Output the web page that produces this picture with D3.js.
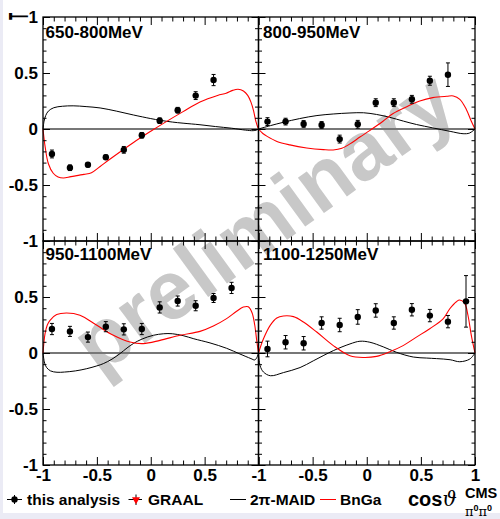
<!DOCTYPE html>
<html><head><meta charset="utf-8">
<script src="https://cdn.jsdelivr.net/npm/d3@7"></script>
<style>
body{margin:0;background:#fff}
svg{display:block}
text{font-family:"Liberation Sans",Arial,Helvetica,sans-serif;font-weight:bold;fill:#000}
</style>
</head><body>
<svg id="chart" width="500" height="519"></svg>
<script>
// ---------- data ----------
const energyBins = ["650-800MeV","800-950MeV","950-1100MeV","1100-1250MeV"];
const cosBins = [-0.917,-0.75,-0.583,-0.417,-0.25,-0.083,0.083,0.25,0.417,0.583,0.75,0.917];

const asym650 = [-0.223,-0.346,-0.319,-0.252,-0.186,-0.056,0.074,0.168,0.298,0.437];
const err650  = [0.035,0.025,0.02,0.02,0.03,0.025,0.025,0.025,0.035,0.05];
const asym800 = [0.066,0.066,0.045,0.036,-0.09,0.042,0.235,0.235,0.265,0.431,0.485];
const err800  = [0.035,0.03,0.03,0.03,0.035,0.035,0.035,0.035,0.035,0.04,0.105];
const asym950 = [0.214,0.193,0.142,0.235,0.211,0.214,0.407,0.464,0.422,0.491,0.581];
const err950  = [0.05,0.045,0.045,0.045,0.05,0.05,0.05,0.045,0.045,0.04,0.05];
const asym1100 = [0.036,0.096,0.087,0.268,0.25,0.322,0.38,0.268,0.386,0.334,0.28,0.461];
const err1100  = [0.07,0.06,0.06,0.055,0.06,0.065,0.06,0.055,0.055,0.055,0.055,0.23];

// model curves [cos, T]
const maid650 = [[-1,0],[-0.99,0.07],[-0.975,0.12],[-0.95,0.16],[-0.9,0.19],[-0.82,0.203],[-0.72,0.207],[-0.6,0.2],[-0.47,0.188],[-0.32,0.16],[-0.16,0.125],[0,0.093],[0.086,0.078],[0.2,0.062],[0.3,0.052],[0.457,0.038],[0.6,0.022],[0.75,0.007],[0.88,-0.01],[0.95,-0.015],[0.98,-0.01],[1,0]];
const bnga650 = [[-1,0],[-0.98,-0.16],[-0.95,-0.31],[-0.905,-0.395],[-0.86,-0.428],[-0.81,-0.437],[-0.74,-0.425],[-0.62,-0.405],[-0.55,-0.39],[-0.47,-0.335],[-0.38,-0.27],[-0.16,-0.12],[0,-0.02],[0.148,0.068],[0.3,0.155],[0.457,0.241],[0.62,0.3],[0.7,0.32],[0.76,0.345],[0.81,0.355],[0.86,0.34],[0.9,0.3],[0.93,0.24],[0.955,0.16],[0.975,0.07],[1,0]];
const maid800 = [[-1,0],[-0.89,0.03],[-0.77,0.06],[-0.62,0.093],[-0.46,0.12],[-0.31,0.134],[-0.155,0.143],[-0.03,0.145],[0.09,0.13],[0.21,0.105],[0.34,0.07],[0.46,0.04],[0.61,0.01],[0.77,-0.021],[0.89,-0.042],[0.95,-0.036],[1,0]];
const bnga800 = [[-1,0],[-0.96,-0.04],[-0.92,-0.066],[-0.83,-0.111],[-0.71,-0.142],[-0.555,-0.169],[-0.4,-0.184],[-0.31,-0.187],[-0.23,-0.172],[-0.155,-0.133],[-0.063,-0.072],[0.03,-0.012],[0.15,0.069],[0.24,0.136],[0.37,0.199],[0.49,0.25],[0.61,0.28],[0.74,0.292],[0.8,0.295],[0.86,0.265],[0.92,0.175],[0.966,0.069],[1,0]];
const maid950 = [[-1,0],[-0.985,-0.09],[-0.966,-0.13],[-0.93,-0.16],[-0.87,-0.172],[-0.8,-0.17],[-0.7,-0.16],[-0.594,-0.14],[-0.5,-0.115],[-0.44,-0.095],[-0.36,-0.055],[-0.285,-0.005],[-0.22,0.045],[-0.162,0.084],[-0.08,0.125],[0.024,0.158],[0.12,0.172],[0.2,0.172],[0.3,0.155],[0.4,0.127],[0.55,0.09],[0.704,0.042],[0.828,-0.009],[0.93,-0.05],[0.965,-0.062],[0.985,-0.04],[1,0]];
const bnga950 = [[-1,0],[-0.981,0.173],[-0.96,0.25],[-0.935,0.292],[-0.873,0.343],[-0.78,0.357],[-0.657,0.337],[-0.5,0.247],[-0.347,0.158],[-0.193,0.098],[-0.07,0.084],[0.086,0.113],[0.27,0.158],[0.457,0.193],[0.581,0.241],[0.704,0.307],[0.797,0.373],[0.859,0.41],[0.905,0.413],[0.94,0.36],[0.965,0.25],[0.985,0.1],[1,0]];
const maid1100 = [[-1,0],[-0.985,-0.114],[-0.954,-0.17],[-0.89,-0.203],[-0.77,-0.175],[-0.616,-0.13],[-0.494,-0.07],[-0.309,0.021],[-0.155,0.081],[-0.063,0.105],[0.029,0.096],[0.152,0.055],[0.275,0.006],[0.43,-0.036],[0.55,-0.045],[0.644,-0.05],[0.77,-0.06],[0.859,-0.078],[0.952,-0.054],[1,0]];
const bnga1100 = [[-1,0],[-0.954,0.127],[-0.892,0.247],[-0.831,0.313],[-0.77,0.331],[-0.677,0.325],[-0.585,0.277],[-0.462,0.187],[-0.309,0.066],[-0.155,-0.024],[-0.032,-0.04],[0.091,-0.03],[0.214,0.012],[0.336,0.066],[0.459,0.142],[0.582,0.217],[0.705,0.305],[0.767,0.395],[0.828,0.458],[0.859,0.473],[0.905,0.443],[0.935,0.337],[0.966,0.157],[1,0]];

const majorTicks = [-1,-0.5,0,0.5,1];
const tickLabels = ["-1","-0.5","0","0.5","1"];
const legendLabels = ["this analysis","GRAAL","2\u03c0-MAID","BnGa"];

// ---------- layout ----------
const series = [
  {label:energyBins[0], T:asym650, E:err650, maid:maid650, bnga:bnga650},
  {label:energyBins[1], T:asym800, E:err800, maid:maid800, bnga:bnga800},
  {label:energyBins[2], T:asym950, E:err950, maid:maid950, bnga:bnga950},
  {label:energyBins[3], T:asym1100, E:err1100, maid:maid1100, bnga:bnga1100}
];
const layout = [
  {x0:43,x1:258.5,y0:17,y1:241,lx:45.5,ly:37.5,yLab:[0,1,2,3,4],xLab:[]},
  {x0:258.5,x1:475,y0:17,y1:241,lx:263,ly:37.5,yLab:[],xLab:[]},
  {x0:43,x1:258.5,y0:241,y1:465,lx:45.5,ly:259.5,yLab:[0,1,2,3],xLab:[0,1,2,3]},
  {x0:258.5,x1:475,y0:241,y1:465,lx:263,ly:259.5,yLab:[],xLab:[0,1,2,3,4]}
];
const minorTicks = d3.range(-10,11).filter(i=>i%5!==0).map(i=>i/10);

const svg = d3.select("#chart");
// page margin strip
svg.append("rect").attr("x",0).attr("y",0).attr("width",500).attr("height",519).attr("fill","#ebebf5");
svg.append("rect").attr("x",3).attr("y",0).attr("width",497).attr("height",513).attr("fill","#fff");

// watermark
svg.append("text").attr("transform","translate(280,245) rotate(-36)")
  .attr("text-anchor","middle").style("font-size","83px").style("fill","#c8c8c8")
  .text("preliminary");

series.forEach((s,i)=>{
  const L = layout[i];
  const x = d3.scaleLinear().domain([-1,1]).range([L.x0,L.x1]);
  const y = d3.scaleLinear().domain([-1,1]).range([L.y1,L.y0]);
  const g = svg.append("g");

  // zero line
  g.append("line").attr("x1",L.x0).attr("x2",L.x1).attr("y1",y(0)).attr("y2",y(0))
    .attr("stroke","#777").attr("stroke-width",2);

  const line = d3.line().x(d=>x(d[0])).y(d=>y(d[1])).curve(d3.curveCatmullRom.alpha(0.5));
  g.append("path").attr("d",line(s.maid)).attr("fill","none").attr("stroke","#000").attr("stroke-width",1);
  g.append("path").attr("d",line(s.bnga)).attr("fill","none").attr("stroke","#f00").attr("stroke-width",1.1);

  // data points
  const pts = s.T.map((t,k)=>({c:cosBins[k],t,e:s.E[k]}));
  const pg = g.selectAll(".pt").data(pts).join("g");
  pg.append("line").attr("x1",d=>x(d.c)).attr("x2",d=>x(d.c))
    .attr("y1",d=>y(d.t-d.e)).attr("y2",d=>y(d.t+d.e)).attr("stroke","#000").attr("stroke-width",1);
  pg.append("line").attr("x1",d=>x(d.c)-2).attr("x2",d=>x(d.c)+2)
    .attr("y1",d=>y(d.t-d.e)).attr("y2",d=>y(d.t-d.e)).attr("stroke","#000");
  pg.append("line").attr("x1",d=>x(d.c)-2).attr("x2",d=>x(d.c)+2)
    .attr("y1",d=>y(d.t+d.e)).attr("y2",d=>y(d.t+d.e)).attr("stroke","#000");
  pg.append("circle").attr("cx",d=>x(d.c)).attr("cy",d=>y(d.t)).attr("r",3.2).attr("fill","#000");

  // axes (ticks inside on all four sides)
  const fmtY = d => { const k = majorTicks.indexOf(d); return L.yLab.includes(k) ? tickLabels[k] : ""; };
  const fmtX = d => { const k = majorTicks.indexOf(d); return L.xLab.includes(k) ? tickLabels[k] : ""; };
  const ax = [
    [d3.axisLeft(y), `translate(${L.x0},0)`, fmtY, 7, 3.5],
    [d3.axisRight(y), `translate(${L.x1},0)`, ()=>"", 7, 3.5],
    [d3.axisBottom(x), `translate(0,${L.y1})`, fmtX, 8, 4.5],
    [d3.axisTop(x), `translate(0,${L.y0})`, ()=>"", 8, 4.5]
  ];
  ax.forEach(([a,tr,fmt,maj,mn])=>{
    const gm = g.append("g").attr("transform",tr)
      .call(a.tickValues(majorTicks).tickSize(-maj).tickPadding(5).tickFormat(fmt));
    gm.select(".domain").remove();
    gm.selectAll("line").attr("stroke","#000").attr("stroke-width",1);
    gm.selectAll("text").attr("font-family",null).style("font-size","17px").attr("fill","#000");
    const gn = g.append("g").attr("transform",tr)
      .call(a.tickValues(minorTicks).tickSize(-mn).tickFormat(()=>""));
    gn.select(".domain").remove();
    gn.selectAll("line").attr("stroke","#000");
  });

  // frame
  g.append("rect").attr("x",L.x0).attr("y",L.y0).attr("width",L.x1-L.x0).attr("height",L.y1-L.y0)
    .attr("fill","none").attr("stroke","#000").attr("stroke-width",1.3);

  // panel label
  g.append("text").attr("x",L.lx).attr("y",L.ly).style("font-size","17px").text(s.label);
});

// bottom-axis label baseline tweak
svg.selectAll("g text").filter(function(){return this.getAttribute("dy")==="0.71em";}).attr("y",3.5);

// y-axis title (rotated T)
svg.append("text").attr("transform","translate(27.5,16.5) rotate(-90) scale(0.42,1)")
  .attr("text-anchor","middle").style("font-size","28px").text("T");

// legend
const lg = svg.append("g");
const ly = 499.5;
lg.append("line").attr("x1",7).attr("x2",22).attr("y1",ly).attr("y2",ly).attr("stroke","#000");
lg.append("line").attr("x1",14.5).attr("x2",14.5).attr("y1",ly-4.5).attr("y2",ly+4.5).attr("stroke","#000");
lg.append("circle").attr("cx",14.5).attr("cy",ly).attr("r",3.2).attr("fill","#000");
lg.append("text").attr("x",27).attr("y",505).style("font-size","15.5px").text(legendLabels[0]);

lg.append("line").attr("x1",128.5).attr("x2",142).attr("y1",ly).attr("y2",ly).attr("stroke","#000");
lg.append("line").attr("x1",136).attr("x2",136).attr("y1",ly-5).attr("y2",ly+5.5).attr("stroke","#000");
lg.append("path").attr("d",d3.symbol(d3.symbolTriangle,28)()).attr("transform",`translate(136,${ly}) rotate(180)`).attr("fill","#f00");
lg.append("text").attr("x",148).attr("y",505).style("font-size","15.5px").text(legendLabels[1]);

lg.append("line").attr("x1",230).attr("x2",246).attr("y1",ly).attr("y2",ly).attr("stroke","#000");
lg.append("text").attr("x",250).attr("y",505).style("font-size","15.5px").text(legendLabels[2]);
lg.append("line").attr("x1",320).attr("x2",336).attr("y1",ly).attr("y2",ly).attr("stroke","#f00");
lg.append("text").attr("x",340).attr("y",505).style("font-size","15.5px").text(legendLabels[3]);

// x-axis title
const xt = svg.append("text").attr("x",408).attr("y",506);
xt.append("tspan").style("font-size","20px").text("cos");
xt.append("tspan").style("font-family","DejaVu Serif").style("font-weight","normal").style("font-style","italic").style("font-size","20px").text("\u03d1");
svg.append("text").attr("x",465).attr("y",498).style("font-size","14.5px").text("CMS");
const sub = svg.append("text").attr("x",465).attr("y",516).style("font-family","DejaVu Serif").style("font-weight","normal").style("font-size","13px");
sub.append("tspan").text("\u03c0");
sub.append("tspan").attr("dy",-5).style("font-size","9px").style("font-family","Liberation Sans").style("font-weight","bold").text("0");
sub.append("tspan").attr("dy",5).text("\u03c0");
sub.append("tspan").attr("dy",-5).style("font-size","9px").style("font-family","Liberation Sans").style("font-weight","bold").text("0");
</script>
</body></html>
